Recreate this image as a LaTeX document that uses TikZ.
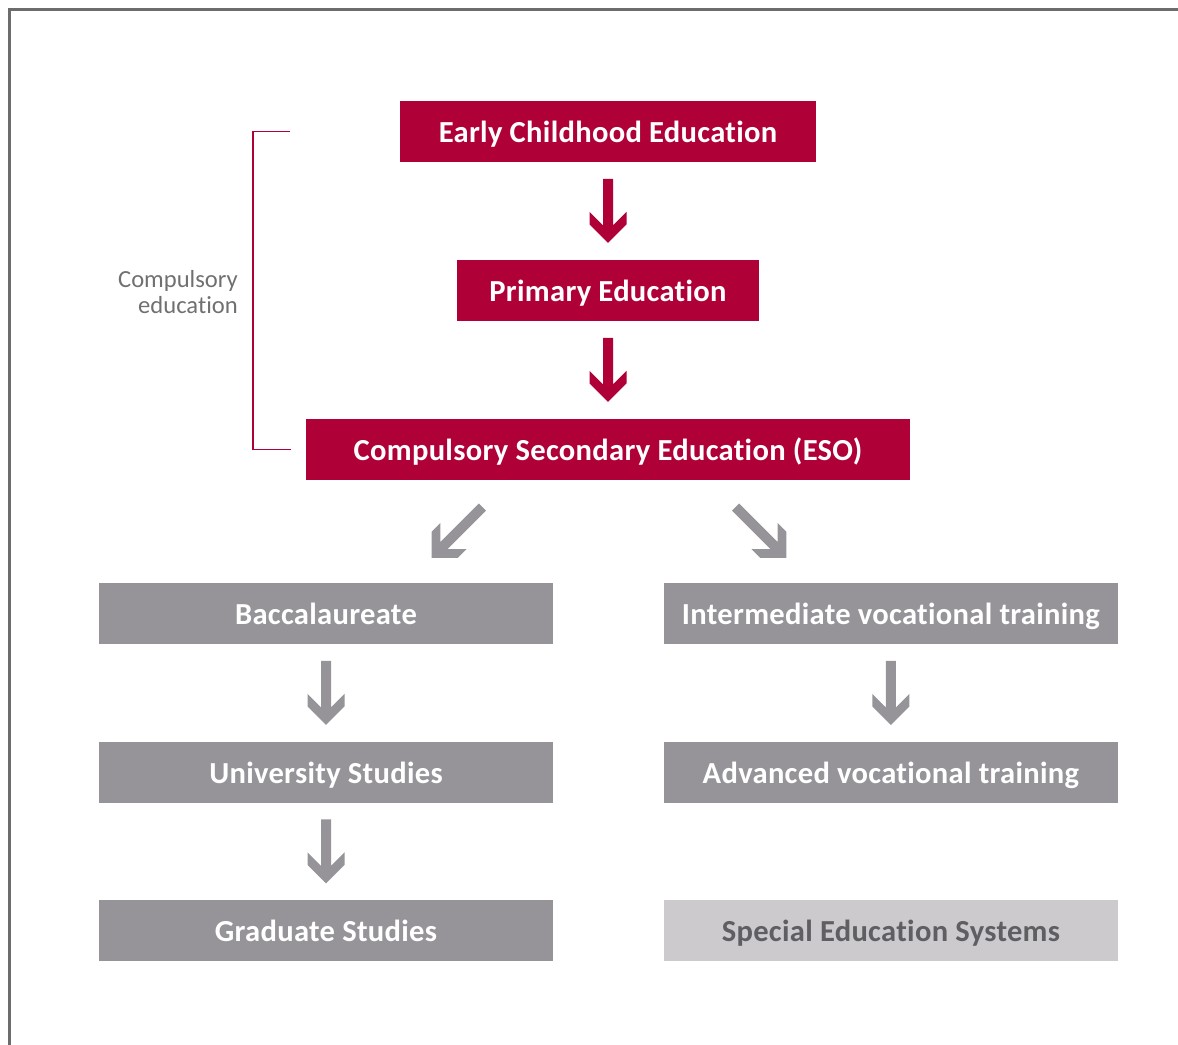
\documentclass[tikz,border=0pt]{standalone}
\usepackage{fontspec}
\setmainfont[Ligatures=NoCommon]{Carlito}
\newfontfamily\boxfont[LetterSpace=1.0, Ligatures=NoCommon]{Carlito}
\usetikzlibrary{positioning}
\usetikzlibrary{calc}
\definecolor{crimson}{RGB}{176,0,56}
\definecolor{midgrey}{RGB}{150,148,153}
\definecolor{lightgrey}{RGB}{204,202,205}
\definecolor{darkgrey}{RGB}{95,95,99}
\definecolor{framegrey}{RGB}{108,108,108}
\definecolor{labelgrey}{RGB}{112,112,114}
\tikzset{
  box/.style={fill=#1, text=white, font=\boxfont\bfseries\fontsize{17.4}{20}\selectfont,
    minimum height=1.22cm, text height=13pt, text depth=0.1pt, inner sep=0pt, outer sep=0pt},
  redbox/.style={box=crimson},
  greybox/.style={box=midgrey, minimum width=9.08cm},
  pics/bigarrow/.style={code={
    \path[pic actions] (0,{-#1/2}) -- (18.5,{-#1/2+18.5}) -- (18.5,{-#1/2+31})
      -- (5,{-#1/2+17.5}) -- (5,{#1/2}) -- (-5,{#1/2}) -- (-5,{-#1/2+17.5})
      -- (-18.5,{-#1/2+31}) -- (-18.5,{-#1/2+18.5}) -- cycle;
  }}
}

\begin{document}
\begin{tikzpicture}[x=0.02cm, y=0.02cm]
        \useasboundingbox (0,0) rectangle (1178,-1045);
        \draw[framegrey, line width=1.7pt] (9.5,-1045) -- (9.5,-9.5) -- (1178,-9.5);

        % nodes %
        \node[redbox, minimum width=8.32cm] (ece) at (608,-131.5) {Early Childhood Education};
        \node[redbox, minimum width=6.06cm, below=1.96cm of ece] (pe) {Primary Education};
        \node[redbox, minimum width=12.1cm, below=1.96cm of pe] (eso) {Compulsory Secondary Education (ESO)};

        \node[greybox] (bac) at (326,-613.5) {Baccalaureate};
        \node[greybox, right=2.22cm of bac] (ivt) {Intermediate vocational training};
        \node[greybox, below=1.96cm of bac] (uni) {University Studies};
        \node[greybox, below=1.94cm of uni] (gs) {Graduate Studies};
        \node[greybox, below=1.96cm of ivt] (avt) {Advanced vocational training};
        \node[greybox, fill=lightgrey, text=darkgrey, below=1.94cm of avt] (ses) {Special Education Systems};

        \node[anchor=east, align=right, text=labelgrey, font=\fontsize{14}{14.7}\selectfont] (ce) at (244,-292) {Compulsory\\education};

        % bracket %
        \coordinate (bt) at ($(ece.west)+(-110,0)$);
        \coordinate (bb) at ($(eso.west)+(-15,0)$);
        \draw[crimson, line width=0.75pt] (bt) -- ++(-37,0) |- (bb);

        % edges %
        \pic[fill=crimson] at ($(ece.south)!0.5!(pe.north)$) {bigarrow=64};
        \pic[fill=crimson] at ($(pe.south)!0.5!(eso.north)$) {bigarrow=64};
        \pic[fill=midgrey, rotate=-45] at ($(eso.south)+(-151,-52.5)$) {bigarrow=72};
        \pic[fill=midgrey, rotate=45] at ($(eso.south)+(153,-52.5)$) {bigarrow=72};
        \pic[fill=midgrey] at ($(bac.south)!0.5!(uni.north)$) {bigarrow=64};
        \pic[fill=midgrey] at ($(uni.south)!0.5!(gs.north)$) {bigarrow=64};
        \pic[fill=midgrey] at ($(ivt.south)!0.5!(avt.north)$) {bigarrow=64};
\end{tikzpicture}
\end{document}
